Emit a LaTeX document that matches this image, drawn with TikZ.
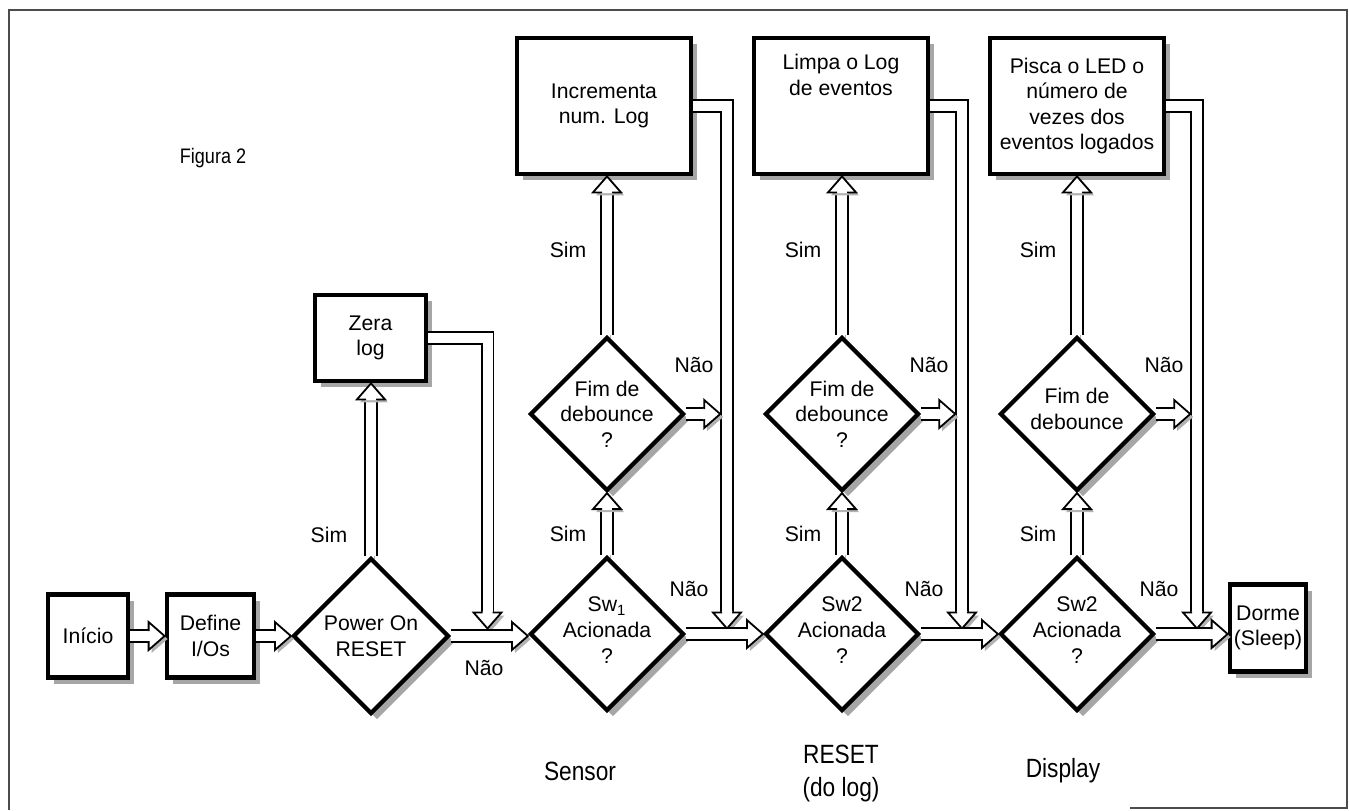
\documentclass[tikz,border=0pt]{standalone}
\usepackage{fontspec}
\setmainfont{Liberation Sans}
\newfontfamily\condfont[FakeStretch=0.86]{Liberation Sans}
\usetikzlibrary{shapes.geometric,shadows,calc}
\newcommand\fmain{\fontsize{10.6pt}{12.8pt}\selectfont}
\newcommand\fbig{\condfont\fontsize{13.2pt}{16.5pt}\selectfont}
\newcommand\ffig{\condfont\fontsize{10.5pt}{12pt}\selectfont}
\begin{document}
\begin{tikzpicture}[x=0.5pt,y=-0.5pt,
  shd/.style={drop shadow={shadow xshift=3pt,shadow yshift=-3pt,fill=black!35,opacity=1}},
  box/.style={draw=black, line width=2.4pt, fill=white, inner sep=0pt, align=center, font=\fmain, shd},
  tbox/.style={box, minimum width=87pt, minimum height=68pt},
  dia/.style={diamond, aspect=1, draw=black, line width=2.1pt, fill=white, inner sep=0pt,
              minimum width=77pt, minimum height=77pt, shd},
  txt/.style={align=center, font=\fmain, inner sep=0pt},
  big/.style={align=center, font=\fbig, inner sep=0pt},
  frame/.style={draw=black!70, line width=0.8pt},
  shaft/.style={draw=black, line width=6.8pt, line join=miter, shorten >=7.9pt,
                preaction={draw=black!30, transform canvas={shift={(1.5pt,-1.5pt)}}},
                postaction={draw=white, line width=5pt}},
  ahead/.pic={
    \fill[black!30, transform canvas={shift={(1.5pt,-1.5pt)}}]
      (-8pt,-3.4pt) -- (-8pt,-7pt) -- (0pt,0pt) -- (-8pt,7pt) -- (-8pt,3.4pt) -- cycle;
    \filldraw[fill=white, draw=black, line width=0.9pt, line join=miter]
      (-8.4pt,2.95pt) -- (-8pt,2.95pt) -- (-8pt,7pt) -- (0pt,0pt) -- (-8pt,-7pt)
      -- (-8pt,-2.95pt) -- (-8.4pt,-2.95pt);
  }
]
\useasboundingbox (0,0) rectangle (1349,810);
% frame
\draw[frame] (9,810) -- (9,10) -- (1347,10) -- (1347,808) -- (1130,808);

\node[inner sep=0pt, font=\ffig] (fig) at (213,158) {Figura 2};

% lower row
\node[box, minimum width=40pt, minimum height=41.5pt] (ini) at (88,636) {Início};
\node[box, minimum width=43.5pt, minimum height=41.5pt] (def) at (210.5,636) {Define\\I/Os};
\node[dia, minimum width=78pt, minimum height=78pt] (pw) at (371,636) {};
\node[txt] (pwt) at (pw) {Power On\\RESET};
\node[box, minimum width=55.5pt, minimum height=43pt] (zera) at (370.5,338) {Zera\\log};

% columns
\node[dia] (s1) at (607,634) {};
\node[txt] (s1t) at (607,630) {Sw\textsubscript{1}\\Acionada\\?};
\node[dia] (f1) at (607,414) {};
\node[txt] (f1t) at (f1) {Fim de\\debounce\\?};
\node[tbox] (b1) at (604,106) {Incrementa\\num. Log};

\node[dia] (s2) at (842,634) {};
\node[txt] (s2t) at (842,630) {Sw2\\Acionada\\?};
\node[dia] (f2) at (842,414) {};
\node[txt] (f2t) at (f2) {Fim de\\debounce\\?};
\node[tbox] (b2) at (841,106) {};
\node[txt] (b2t) at (841,75) {Limpa o Log\\de eventos};

\node[dia] (s3) at (1077,634) {};
\node[txt] (s3t) at (1077,630) {Sw2\\Acionada\\?};
\node[dia] (f3) at (1077,414) {};
\node[txt] (f3t) at (1077,409) {Fim de\\debounce};
\node[tbox] (b3) at (1077,106) {Pisca o LED o\\número de\\vezes dos\\eventos logados};

\node[box, minimum width=38pt, minimum height=43.5pt] (dor) at (1268,628) {Dorme\\(Sleep)};

% arrows: start
\draw[shaft] (ini.east) -- (def.west); \pic at (def.west) {ahead};
\draw[shaft] (def.east) -- (pw.west); \pic at (pw.west) {ahead};
\draw[shaft] (pw.north) -- (pw.north |- zera.south); \pic[rotate=90] at (pw.north |- zera.south) {ahead};
\coordinate (zj) at (487.5,338);
\coordinate (zt) at (487.5,628.5);
\draw[shaft] (zera.east) -- (zj) -- (zt); \pic[rotate=-90] at (zt) {ahead};

% columns arrows
\foreach \i/\c in {1/607,2/842,3/1077}{
  \draw[shaft] (s\i.north) -- (f\i.south); \pic[rotate=90] at (f\i.south) {ahead};
  \draw[shaft] (f\i.north) -- (f\i.north |- b\i.south); \pic[rotate=90] at (f\i.north |- b\i.south) {ahead};
  \coordinate (j\i) at (\c+120,106);
  \coordinate (t\i) at (\c+120,628.5);
  \draw[shaft] (b\i.east) -- (j\i) -- (t\i); \pic[rotate=-90] at (t\i) {ahead};
  \coordinate (e\i) at (\c+113.2,414);
  \draw[shaft] (f\i.east) -- (e\i); \pic at (e\i) {ahead};
}
\draw[shaft] (pw.east) -- (pw.east -| s1.west); \pic at (pw.east -| s1.west) {ahead};
\draw[shaft] (s1.east) -- (s2.west); \pic at (s2.west) {ahead};
\draw[shaft] (s2.east) -- (s3.west); \pic at (s3.west) {ahead};
\draw[shaft] (s3.east) -- (s3.east -| dor.west); \pic at (s3.east -| dor.west) {ahead};

% labels
\node[txt] (pwsim) at (329,535) {Sim};
\node[txt] (pwnao) at (484,668) {Não};
\foreach \i/\c in {1/607,2/842,3/1077}{
  \node[txt] (simu\i) at (\c-39,250) {Sim};
  \node[txt] (siml\i) at (\c-39,534) {Sim};
  \node[txt] (naou\i) at (\c+87,365) {Não};
  \node[txt] (naol\i) at (\c+82,589) {Não};
}
\node[big] (sens) at (580,771) {Sensor};
\node[big] (rst) at (841,774) {RESET\\(do log)};
\node[big] (disp) at (1063,771) {Display};
\end{tikzpicture}
\end{document}
